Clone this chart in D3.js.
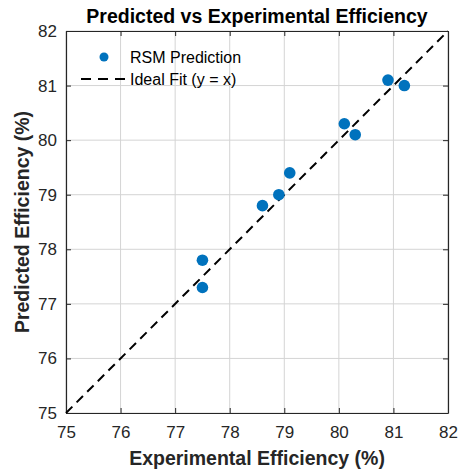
<!DOCTYPE html>
<html>
<head>
<meta charset="UTF-8">
<script src="https://d3js.org/d3.v7.min.js"></script>
<style>
  body { margin: 0; background: #fff; }
  text { font-family: "Liberation Sans", Arial, sans-serif; }
</style>
</head>
<body>
<svg></svg>
<script>
// Data
let experimental = [77.5, 77.5, 78.6, 78.9, 79.1, 80.1, 80.3, 80.9, 81.2];
let predicted    = [77.8, 77.3, 78.8, 79.0, 79.4, 80.3, 80.1, 81.1, 81.0];
let ticks = [75, 76, 77, 78, 79, 80, 81, 82];
let fitLine = [75, 82];

let width = 459, height = 471;
let margin = {left: 66, right: 11, top: 31, bottom: 58};

let svg = d3.select("svg").attr("width", width).attr("height", height);

let x = d3.scaleLinear().domain([75, 82]).range([margin.left, width - margin.right]);
let y = d3.scaleLinear().domain([75, 82]).range([height - margin.bottom, margin.top]);

// Grid
svg.append("g").selectAll("line").data(ticks).enter().append("line")
    .attr("x1", d => x(d)).attr("x2", d => x(d))
    .attr("y1", y(82)).attr("y2", y(75))
    .attr("stroke", "#d4d4d4").attr("stroke-width", 1);
svg.append("g").selectAll("line").data(ticks).enter().append("line")
    .attr("y1", d => y(d)).attr("y2", d => y(d))
    .attr("x1", x(75)).attr("x2", x(82))
    .attr("stroke", "#d4d4d4").attr("stroke-width", 1);

// Axes with inward ticks
let fmt = d3.format("d");
let xAxis = svg.append("g")
    .attr("transform", "translate(0," + y(75) + ")")
    .call(d3.axisBottom(x).tickValues(ticks).tickFormat(fmt).tickSizeInner(-5).tickSizeOuter(0).tickPadding(13));
let xAxisTop = svg.append("g")
    .attr("transform", "translate(0," + y(82) + ")")
    .call(d3.axisTop(x).tickValues(ticks).tickSizeInner(-5).tickSizeOuter(0).tickFormat(""));
let yAxis = svg.append("g")
    .attr("transform", "translate(" + x(75) + ",0)")
    .call(d3.axisLeft(y).tickValues(ticks).tickFormat(fmt).tickSizeInner(-5).tickSizeOuter(0).tickPadding(9));
let yAxisRight = svg.append("g")
    .attr("transform", "translate(" + x(82) + ",0)")
    .call(d3.axisRight(y).tickValues(ticks).tickSizeInner(-5).tickSizeOuter(0).tickFormat(""));

[xAxis, xAxisTop, yAxis, yAxisRight].forEach(a => {
    a.select(".domain").attr("stroke", "#262626").attr("stroke-width", 1.2);
    a.selectAll(".tick line").attr("stroke", "#262626");
    a.selectAll("text").style("font-size", "17px").attr("fill", "#262626")
        .style("font-family", "'Liberation Sans', Arial, sans-serif");
});

// Ideal fit line
svg.append("line")
    .attr("x1", x(fitLine[0])).attr("y1", y(fitLine[0]))
    .attr("x2", x(fitLine[1])).attr("y2", y(fitLine[1]))
    .attr("stroke", "black").attr("stroke-width", 2)
    .attr("stroke-dasharray", "9,6");

// Points
svg.append("g").selectAll("circle").data(experimental).enter().append("circle")
    .attr("cx", d => x(d))
    .attr("cy", (d, i) => y(predicted[i]))
    .attr("r", 5.8)
    .attr("fill", "#0072BD");

// Legend
let legend = svg.append("g");
legend.append("circle").attr("cx", 104).attr("cy", 57).attr("r", 4.5).attr("fill", "#0072BD");
legend.append("text").attr("x", 130).attr("y", 62.5).style("font-size", "16px").attr("fill", "#000").text("RSM Prediction");
legend.append("line").attr("x1", 81).attr("x2", 127).attr("y1", 79).attr("y2", 79)
    .attr("stroke", "black").attr("stroke-width", 2).attr("stroke-dasharray", "10,7");
legend.append("text").attr("x", 130).attr("y", 84.5).style("font-size", "16px").attr("fill", "#000").text("Ideal Fit (y = x)");

// Title and labels
svg.append("text").attr("x", (x(75) + x(82)) / 2).attr("y", 23)
    .attr("text-anchor", "middle").style("font-size", "19.5px").style("font-weight", "bold")
    .text("Predicted vs Experimental Efficiency");
svg.append("text").attr("x", (x(75) + x(82)) / 2).attr("y", 465)
    .attr("text-anchor", "middle").style("font-size", "19.5px").style("font-weight", "bold")
    .attr("fill", "#262626")
    .text("Experimental Efficiency (%)");
svg.append("text")
    .attr("transform", "translate(29," + (y(75) + y(82)) / 2 + ") rotate(-90)")
    .attr("text-anchor", "middle").style("font-size", "19.5px").style("font-weight", "bold")
    .attr("fill", "#262626")
    .text("Predicted Efficiency (%)");
</script>
</body>
</html>
